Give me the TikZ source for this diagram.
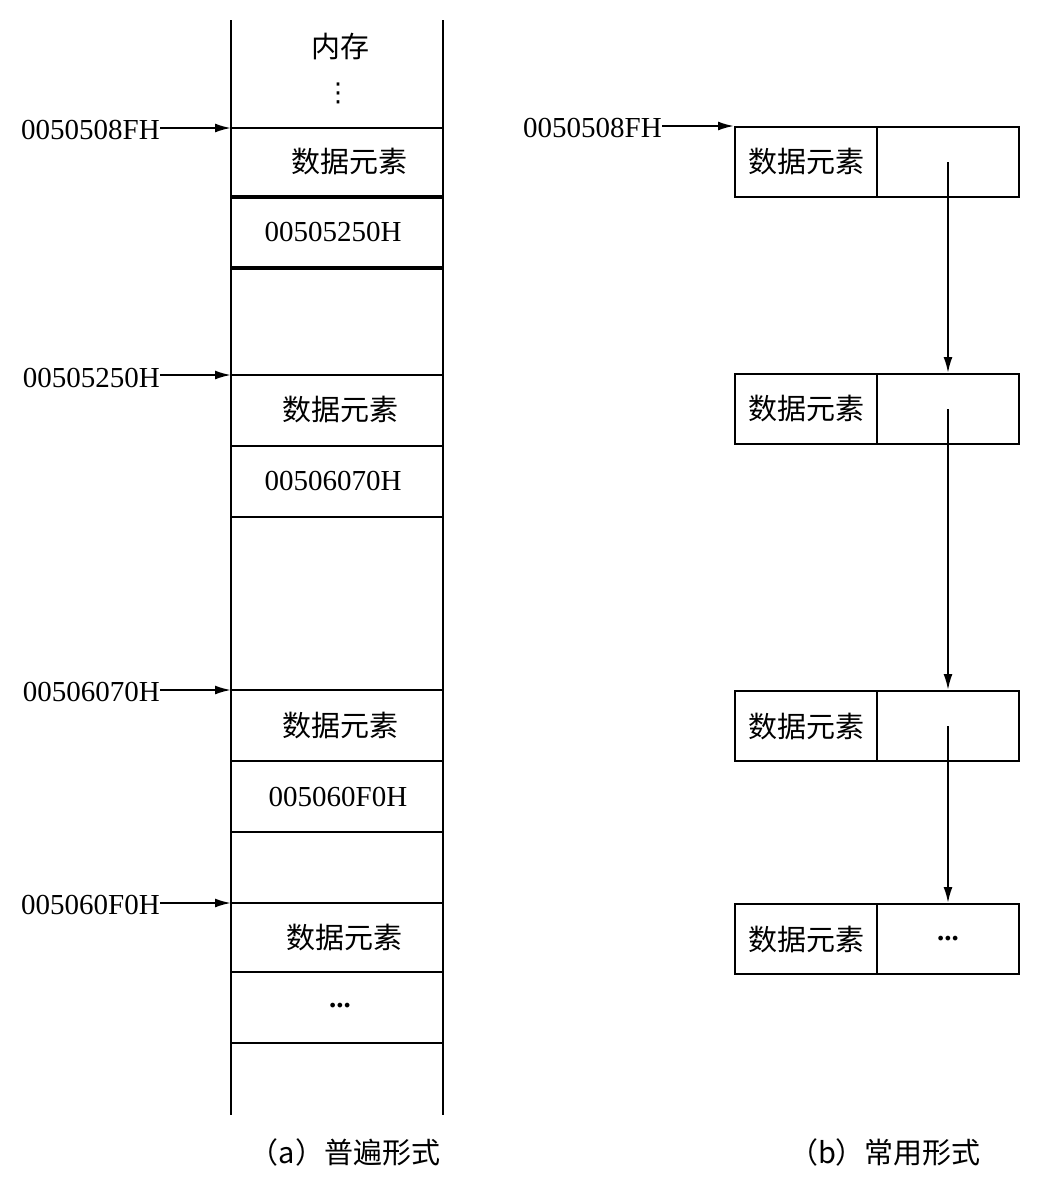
\documentclass[tikz,border=0pt]{standalone}
\usepackage{fontspec}
\setmainfont{Liberation Serif}
\newfontfamily\cjk{Noto Sans CJK SC}
\newfontfamily\djv{DejaVu Sans}
\usetikzlibrary{arrows.meta}
\tikzset{
  thinl/.style={line width=2pt},
  thickl/.style={line width=3.5pt},
  arr/.style={line width=2pt,-{Latex[length=16pt,width=9pt]}},
  txt/.style={inner sep=0pt,font=\fontsize{29}{32}\selectfont},
  addr/.style={txt,anchor=east},
  cell/.style={draw,line width=2pt,minimum width=142pt,minimum height=70pt,inner sep=0pt,anchor=north west,font=\fontsize{29}{32}\selectfont}
}
\begin{document}
\begin{tikzpicture}[x=1pt,y=-1pt]
\useasboundingbox (0,0) rectangle (1038,1192);
% ---------- (a) ----------
\draw[thinl] (231,20) -- (231,1115);
\draw[thinl] (443,20) -- (443,1115);
\foreach \y in {128,375,446,517,690,761,832,903,972,1043}
  \draw[thinl] (231,\y) -- (443,\y);
\foreach \y in {197,268}
  \draw[thickl] (231,\y) -- (443,\y);
\node[txt] (mem) at (340,47) {\cjk 内存};
\node[txt] (vd) at (338,93) {\djv\fontsize{26}{28}\selectfont ⋮};
\node[txt] (a1) at (349,162) {\cjk 数据元素};
\node[txt] (a2) at (333,232) {00505250H};
\node[txt] (a3) at (340,410) {\cjk 数据元素};
\node[txt] (a4) at (333,481) {00506070H};
\node[txt] (a5) at (340,725) {\cjk 数据元素};
\node[txt] (a6) at (338,797) {005060F0H};
\node[txt] (a7) at (344,937) {\cjk 数据元素};
\node[txt] (a8) at (340,1006) {\textbf{...}};
\coordinate (r1) at (231,128);
\coordinate (r2) at (231,375);
\coordinate (r3) at (231,690);
\coordinate (r4) at (231,903);
\node[addr] (l1) at (160,130) {0050508FH};
\node[addr] (l2) at (160,378) {00505250H};
\node[addr] (l3) at (160,692) {00506070H};
\node[addr] (l4) at (160,905) {005060F0H};
\draw[arr] (l1.east |- r1) -- (r1);
\draw[arr] (l2.east |- r2) -- (r2);
\draw[arr] (l3.east |- r3) -- (r3);
\draw[arr] (l4.east |- r4) -- (r4);
\node[txt] (capa) at (345,1152) {\cjk （a）普遍形式};
% ---------- (b) ----------
\node[cell] (d1) at (734,126) {\cjk 数据元素};
\node[cell] (p1) at (876,126) {};
\node[cell] (d2) at (734,373) {\cjk 数据元素};
\node[cell] (p2) at (876,373) {};
\node[cell] (d3) at (734,690) {\cjk 数据元素};
\node[cell] (p3) at (876,690) {};
\node[cell] (d4) at (734,903) {\cjk 数据元素};
\node[cell] (p4) at (876,903) {\textbf{...}};
\node[addr] (m1) at (662,128) {0050508FH};
\draw[arr] (m1.east |- d1.north west) -- (d1.north west);
\draw[arr] (p1.center) -- (p2.north);
\draw[arr] (p2.center) -- (p3.north);
\draw[arr] (p3.center) -- (p4.north);
\node[txt] (capb) at (885,1152) {\cjk （b）常用形式};
\end{tikzpicture}
\end{document}
